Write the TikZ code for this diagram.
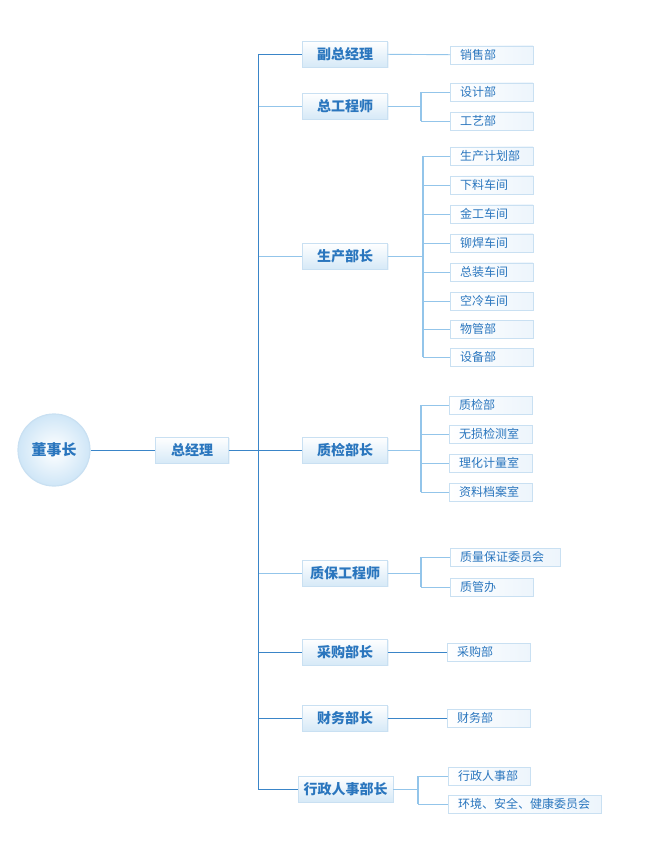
\documentclass[tikz,border=0pt]{standalone}
\usepackage{fontspec}
\setmainfont{Noto Sans CJK SC}
\usepackage{xcolor}
\usetikzlibrary{positioning,calc,shadows}
\definecolor{ink}{HTML}{2A76BE}
\definecolor{rimblue}{HTML}{C9E0F2}
\definecolor{boxblue}{HTML}{D6E9F7}
\definecolor{subblue}{HTML}{EDF5FC}
\definecolor{ballblue}{HTML}{CFE6F7}
\definecolor{linedark}{HTML}{3A85C8}
\definecolor{linelight}{HTML}{93C5EA}

\begin{document}
\begin{tikzpicture}[x=1pt,y=-1pt,
  boss/.style={circle,minimum size=72pt,inner sep=0pt,draw=rimblue,line width=1.2pt,shading=radial,inner color=white,outer color=ballblue,text=ink,font=\fontsize{15}{15}\selectfont\bfseries},
  mgr/.style={draw=rimblue,top color=white,bottom color=boxblue,minimum width=85pt,minimum height=26pt,inner sep=0pt,text=ink,font=\fontsize{14}{14}\selectfont\bfseries,drop shadow={fill=rimblue!60,shadow xshift=1pt,shadow yshift=-1pt,opacity=.6}},
  dept/.style={anchor=west,draw=rimblue,left color=white,right color=subblue,minimum height=18pt,text width=63pt,align=left,inner xsep=10pt,inner ysep=0pt,text=ink,font=\fontsize{12}{12}\selectfont,drop shadow={fill=rimblue!60,shadow xshift=1pt,shadow yshift=-1pt,opacity=.6}},
  dark/.style={draw=linedark,line width=0.9pt},
  light/.style={draw=linelight,line width=0.9pt},
  brace/.style={draw=linelight,line width=1.3pt}]
\useasboundingbox (0,0) rectangle (660,858);

% top of the tree
\node[boss] (dsz) at (54,450) {董事长};
\node[mgr,minimum width=73pt] (zjl) at (192,450) {总经理};
\coordinate (trunk) at (258,450);

% second level
\node[mgr] (fzjl) at (345,54) {副总经理};
\node[mgr] (zgcs) at (345,106) {总工程师};
\node[mgr] (scbz) at (345,256) {生产部长};
\node[mgr] (zjbz) at (345,450) {质检部长};
\node[mgr] (zbgcs) at (345,573) {质保工程师};
\node[mgr] (cgbz) at (345,652) {采购部长};
\node[mgr] (cwbz) at (345,718) {财务部长};
\node[mgr,minimum width=95pt] (xzbz) at (345.5,789) {行政人事部长};

% third level
\node[dept] (xsb) at (450,55) {销售部};
\node[dept] (sjb) at (450,92) {设计部};
\node[dept] (gyb) at (450,121) {工艺部};
\node[dept] (jhb) at (450,156) {生产计划部};
\node[dept] (xlcj) at (450,185) {下料车间};
\node[dept] (jgcj) at (450,214) {金工车间};
\node[dept] (mhcj) at (450,243) {铆焊车间};
\node[dept] (zzcj) at (450,272) {总装车间};
\node[dept] (klcj) at (450,301) {空冷车间};
\node[dept] (wgb) at (450,329) {物管部};
\node[dept] (sbb) at (450,357) {设备部};
\node[dept] (zjb) at (449,405) {质检部};
\node[dept] (wsjc) at (449,434) {无损检测室};
\node[dept] (lhjl) at (449,463) {理化计量室};
\node[dept] (zlda) at (449,492) {资料档案室};
\node[dept,text width=90pt] (zbwy) at (450,557) {质量保证委员会};
\node[dept] (zgb) at (450,587) {质管办};
\node[dept] (cgb) at (447,652) {采购部};
\node[dept] (cwb) at (447,718) {财务部};
\node[dept,text width=62pt] (xzrs) at (448,776) {行政人事部};
\node[dept,text width=133pt] (hjwy) at (448,804) {环境、安全、健康委员会};

% bracket points
\coordinate (gjb) at (421,106);
\coordinate (scb) at (423,256);
\coordinate (zjq) at (421,450);
\coordinate (zbq) at (421,573);
\coordinate (xzq) at (418,789);

% branches off the trunk
\path[dark]
(dsz) edge (zjl)
(zjl) edge (trunk)
(trunk |- fzjl) edge (fzjl)
(trunk) edge (zjbz)
(trunk |- cgbz) edge (cgbz)
(trunk |- cwbz) edge (cwbz)
(trunk |- xzbz) edge (xzbz)
(cgbz) edge (cgb)
(cwbz) edge (cwb)
;
\path[light]
(trunk |- zgcs) edge (zgcs)
(trunk |- scbz) edge (scbz)
(trunk |- zbgcs) edge (zbgcs)
;
\draw[dark] (trunk |- fzjl) -- (trunk |- xzbz);

% right-hand brackets
\path[light]
(fzjl) edge (xsb)
(zgcs) edge (gjb)
(scbz) edge (scb)
(zjbz) edge (zjq)
(zbgcs) edge (zbq)
(xzbz) edge (xzq)
;
\draw[light] (gjb) |- (sjb) (gjb) |- (gyb);
\draw[light] (scb) |- (jhb) (scb) |- (xlcj) (scb) |- (jgcj) (scb) |- (mhcj)
  (scb) |- (zzcj) (scb) |- (klcj) (scb) |- (wgb) (scb) |- (sbb);
\draw[light] (zjq) |- (zjb) (zjq) |- (wsjc) (zjq) |- (lhjl) (zjq) |- (zlda);
\draw[light] (zbq) |- (zbwy) (zbq) |- (zgb);
\draw[light] (xzq) |- (xzrs) (xzq) |- (hjwy);
\path[brace]
(gjb |- sjb) edge (gjb |- gyb)
(scb |- jhb) edge (scb |- sbb)
(zjq |- zjb) edge (zjq |- zlda)
(zbq |- zbwy) edge (zbq |- zgb)
(xzq |- xzrs) edge (xzq |- hjwy)
;
\end{tikzpicture}
\end{document}
